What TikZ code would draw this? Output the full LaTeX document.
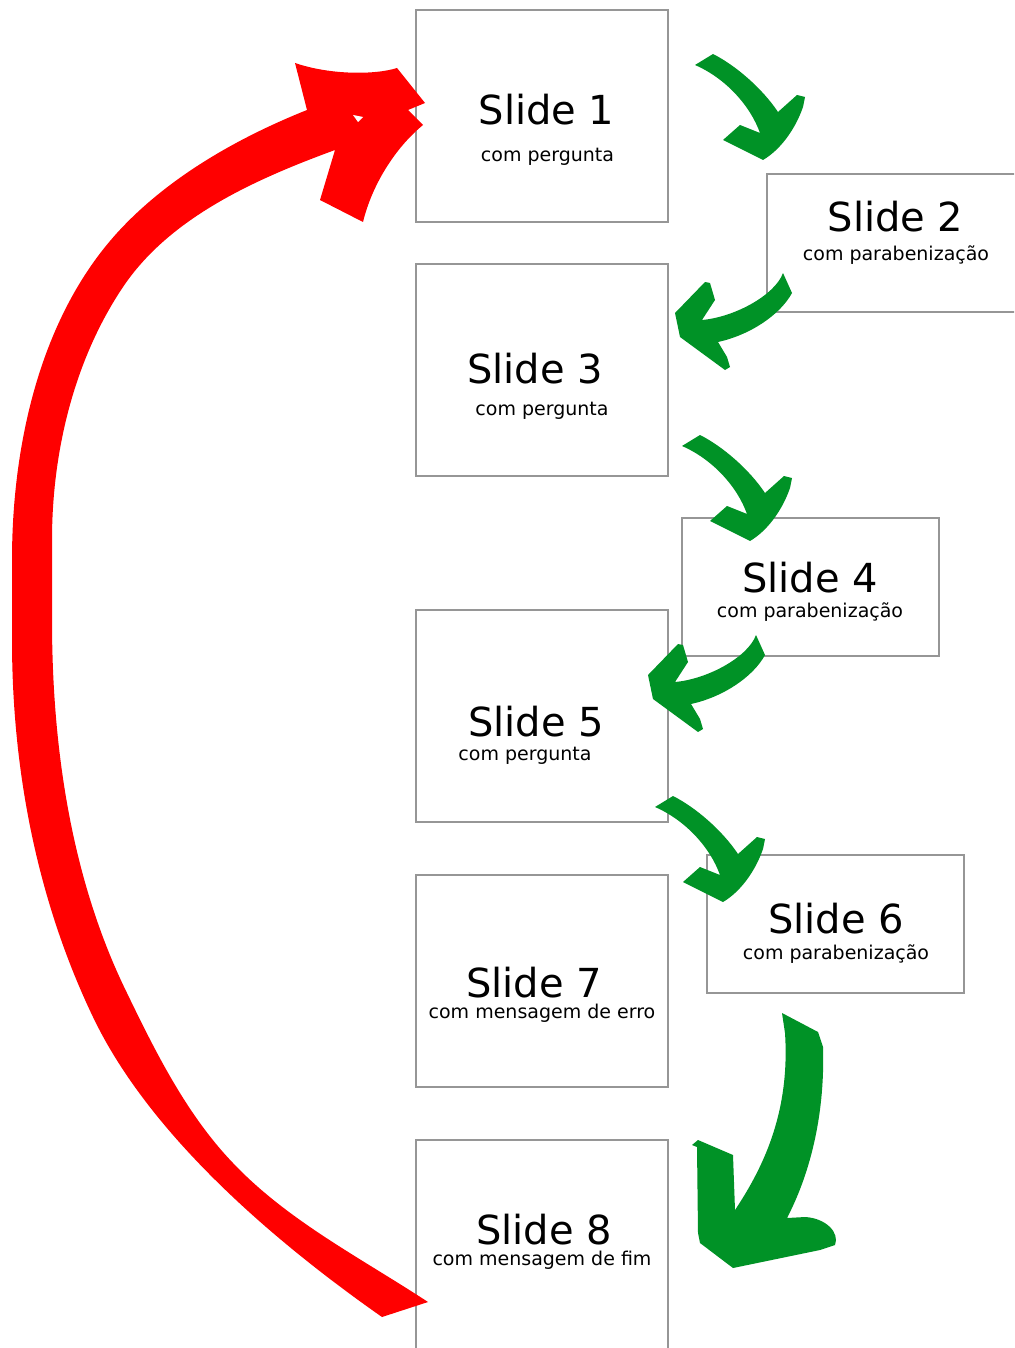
\documentclass[tikz,border=0pt]{standalone}
\usepackage{fontspec}
\setmainfont{DejaVu Sans}
\definecolor{boxgray}{RGB}{150,150,150}
\definecolor{arrowgreen}{RGB}{0,146,38}
\definecolor{arrowred}{RGB}{255,0,0}
\newcommand\arrowshapeDown{%
  (695,65) -- (713,54) .. controls (735,65) and (762,88) .. (778,112)
  -- (797,95) -- (805,97) -- (803,107)
  .. controls (795,130) and (780,150) .. (763,160)
  -- (723,140) -- (740,125) -- (760,133)
  .. controls (750,105) and (725,78) .. (695,65) -- cycle}
\newcommand\arrowshapeLeft{%
  (783,273) -- (792,293) .. controls (780,315) and (750,335) .. (718,342)
  -- (727,357) -- (730,367) -- (725,370) -- (680,337) -- (675,313)
  -- (705,282) -- (710,283) -- (715,300) -- (702,320)
  .. controls (735,317) and (775,295) .. (783,273) -- cycle}
\begin{document}
\begin{tikzpicture}[x=1pt,y=-1pt,
  slidebox/.style={draw=boxgray, line width=1.5pt, fill=white, inner sep=0pt, rectangle},
  tallbox/.style={slidebox, minimum width=252pt, minimum height=212pt},
  widebox/.style={slidebox, minimum width=257pt, minimum height=138pt},
  bigtext/.style={anchor=base, inner sep=0pt, font=\fontsize{40}{48}\selectfont},
  smalltext/.style={anchor=base, inner sep=0pt, font=\fontsize{19}{23}\selectfont},
  greenarrow/.style={fill=arrowgreen},
  redarrow/.style={fill=arrowred}]
\useasboundingbox (0,0) rectangle (1014,1348);
\clip (0,0) rectangle (1014,1348);
\fill[white] (0,0) rectangle (1014,1348);

% slide boxes
\node[tallbox] (s1) at (542,116) {};
\node[slidebox, minimum width=263pt, minimum height=138pt] (s2) at (898.5,243) {};
\node[tallbox] (s3) at (542,370) {};
\node[widebox] (s4) at (810.5,587) {};
\node[tallbox] (s5) at (542,716) {};
\node[widebox] (s6) at (835.5,924) {};
\node[tallbox] (s7) at (542,981) {};
\node[slidebox, minimum width=252pt, minimum height=220pt] (s8) at (542,1250) {};

% texts
\node[bigtext] (t1a) at (546.5,125) {Slide 1};
\node[smalltext] (t1b) at (547.5,162) {com pergunta};
\node[bigtext] (t2a) at (895.5,232) {Slide 2};
\node[smalltext] (t2b) at (896,260) {com parabenização};
\node[bigtext] (t3a) at (535,383) {Slide 3};
\node[smalltext] (t3b) at (542,415) {com pergunta};
\node[bigtext] (t4a) at (810,592) {Slide 4};
\node[smalltext] (t4b) at (810,617) {com parabenização};
\node[bigtext] (t5a) at (536,736) {Slide 5};
\node[smalltext] (t5b) at (525,760) {com pergunta};
\node[bigtext] (t6a) at (836,933) {Slide 6};
\node[smalltext] (t6b) at (836,959) {com parabenização};
\node[bigtext] (t7a) at (534,997) {Slide 7};
\node[smalltext] (t7b) at (542,1018) {com mensagem de erro};
\node[bigtext] (t8a) at (544,1244) {Slide 8};
\node[smalltext] (t8b) at (542,1265) {com mensagem de fim};

% green arrows
\fill[greenarrow] \arrowshapeDown;
\fill[greenarrow] \arrowshapeLeft;
\begin{scope}[shift={(-13,381)}]
  \fill[greenarrow] \arrowshapeDown;
\end{scope}
\begin{scope}[shift={(-27,362)}]
  \fill[greenarrow] \arrowshapeLeft;
\end{scope}
\begin{scope}[shift={(-40,742)}]
  \fill[greenarrow] \arrowshapeDown;
\end{scope}
\fill[greenarrow] (782,1013) -- (818,1032) -- (823,1047)
  .. controls (825,1110) and (812,1170) .. (787,1218)
  -- (805,1217) .. controls (825,1218) and (840,1232) .. (835,1245)
  -- (820,1250) -- (733,1268) -- (700,1243) -- (698,1233) -- (697,1147) -- (692,1145) -- (698,1140)
  -- (733,1155) -- (735,1210)
  .. controls (765,1165) and (790,1110) .. (785,1033) -- (782,1013)
  -- cycle;

% red arrow
\fill[redarrow] (382,1317) -- (428,1302)
  .. controls (361,1258) and (288,1221) .. (233,1163)
  .. controls (187,1115) and (156,1053) .. (127,993)
  .. controls (71,879) and (52,747) .. (52,620) -- (52,540)
  .. controls (52,452) and (74,360) .. (123,287)
  .. controls (170,217) and (256,179) .. (335,150)
  -- (320,200) -- (363,222)
  .. controls (372,185) and (395,148) .. (423,125)
  -- (408,110) -- (425,103) -- (397,68)
  .. controls (375,75) and (330,75) .. (295,63)
  -- (307,110)
  .. controls (237,138) and (167,178) .. (117,233)
  .. controls (40,318) and (12,445) .. (12,560) -- (12,640)
  .. controls (12,770) and (37,900) .. (93,1017)
  .. controls (147,1130) and (265,1235) .. (382,1317)
  -- cycle;
\fill[white] (353,115) -- (363,117) -- (358,122) -- cycle;
\end{tikzpicture}
\end{document}
